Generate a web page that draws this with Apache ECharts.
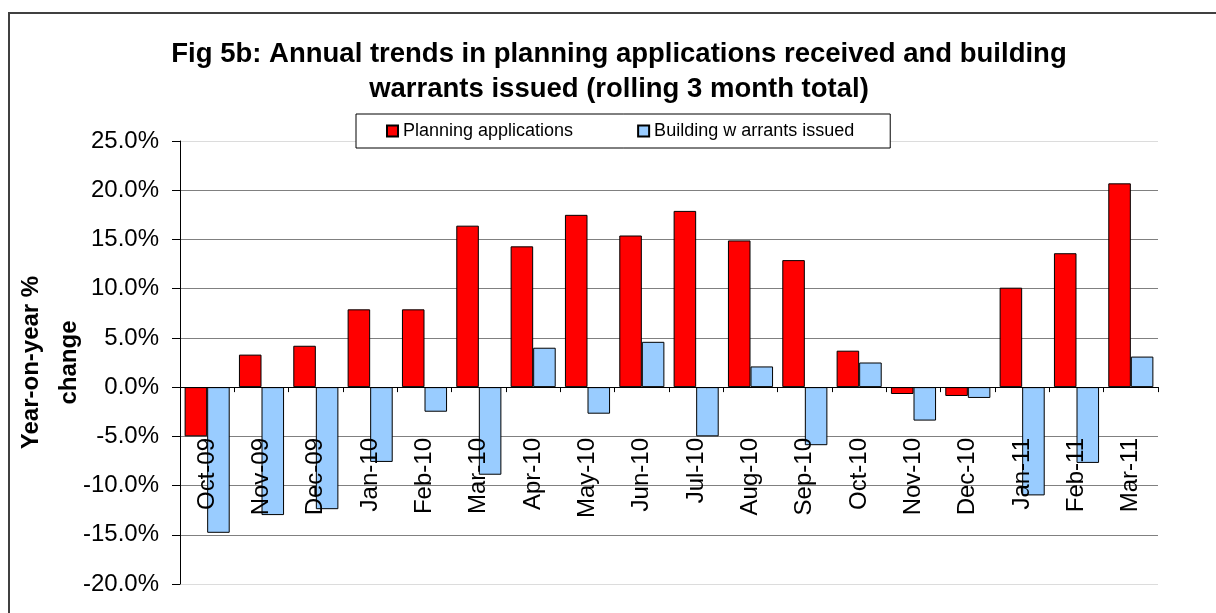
<!DOCTYPE html>
<html>
<head>
<meta charset="utf-8">
<script src="https://cdn.jsdelivr.net/npm/echarts@6/dist/echarts.min.js"></script>
<style>
  html, body { margin: 0; padding: 0; background: #fff; }
  #chart { width: 1216px; height: 613px; }
</style>
</head>
<body>
<div id="chart"></div>
<script>
// months (rolling 3 month total)
const months = ['Oct-09', 'Nov-09', 'Dec-09', 'Jan-10', 'Feb-10', 'Mar-10', 'Apr-10', 'May-10', 'Jun-10',
  'Jul-10', 'Aug-10', 'Sep-10', 'Oct-10', 'Nov-10', 'Dec-10', 'Jan-11', 'Feb-11', 'Mar-11']

// year-on-year % change
const planningApps = [-5.0, 3.3, 4.2, 7.9, 7.9, 16.4, 14.3, 17.5, 15.4, 17.9, 14.9, 12.9, 3.7, -0.7, -0.9, 10.1, 13.6, 20.7]
const buildingWarrants = [-14.8, -13.0, -12.4, -7.6, -2.5, -8.9, 4.0, -2.7, 4.6, -5.0, 2.1, -5.9, 2.5, -3.4, -1.1, -11.0, -7.7, 3.1]

const seriesNames = ['Planning applications', 'Building w arrants issued']

const font = 'Arial, "Liberation Sans", sans-serif'

const chart = echarts.init(document.getElementById('chart'))

// gridlines: top/bottom edges lighter than the inner ones
const gridColors = ['#dcdcdc', '#808080', '#808080', '#808080', '#808080', '#808080', '#808080', '#808080', '#808080', '#dcdcdc']

const option = {
  backgroundColor: '#fff',
  animation: false,
  title: {
    text: 'Fig 5b: Annual trends in planning applications received and building\nwarrants issued (rolling 3 month total)',
    left: 614,
    top: 32,
    textAlign: 'center',
    textStyle: {
      fontFamily: font,
      fontWeight: 'bold',
      fontSize: 27.5,
      lineHeight: 35,
      color: '#000',
    },
  },
  legend: {
    data: seriesNames,
    left: 356,
    top: 114,
    padding: [8, 36, 8, 30],
    itemGap: 64,
    itemWidth: 11,
    itemHeight: 11,
    icon: 'rect',
    backgroundColor: '#fff',
    borderColor: '#000',
    borderWidth: 1,
    textStyle: {
      fontFamily: font,
      fontSize: 18,
      color: '#000',
    },
  },
  grid: {
    left: 180,
    right: 58,
    top: 141,
    bottom: 29,
    outerBoundsMode: 'none',
    containLabel: false,
  },
  xAxis: {
    type: 'category',
    data: months,
    z: 3,
    axisLine: {
      onZero: true,
      lineStyle: { color: '#000', width: 1 },
    },
    axisTick: {
      show: true,
      length: 5,
      lineStyle: { color: '#000' },
    },
    axisLabel: {
      rotate: 90,
      margin: -146,
      interval: 0,
      fontFamily: font,
      fontSize: 24,
      color: '#000',
    },
  },
  yAxis: {
    type: 'value',
    min: -20,
    max: 25,
    interval: 5,
    name: 'Year-on-year %\nchange',
    nameLocation: 'middle',
    nameRotate: 90,
    nameGap: 92,
    nameMoveOverlap: false,
    nameTextStyle: {
      fontFamily: font,
      fontWeight: 'bold',
      fontSize: 24,
      lineHeight: 38,
      color: '#000',
    },
    axisLine: {
      show: true,
      lineStyle: { color: '#000', width: 1 },
    },
    axisTick: {
      show: true,
      length: 8,
      lineStyle: { color: '#000' },
    },
    axisLabel: {
      margin: 21,
      fontFamily: font,
      fontSize: 24,
      color: '#000',
      formatter: v => v.toFixed(1) + '%',
    },
    splitLine: {
      show: true,
      lineStyle: { color: gridColors, width: 1 },
    },
  },
  series: [
    {
      name: seriesNames[0],
      type: 'bar',
      data: planningApps,
      barGap: '0%',
      barCategoryGap: '17%',
      itemStyle: { color: '#ff0000', borderColor: '#000', borderWidth: 1 },
    },
    {
      name: seriesNames[1],
      type: 'bar',
      data: buildingWarrants,
      barGap: '0%',
      barCategoryGap: '17%',
      itemStyle: { color: '#99ccff', borderColor: '#000', borderWidth: 1 },
    },
  ],
  // outer chart-area border (top and left edges visible)
  graphic: [
    { type: 'line', shape: { x1: 8, y1: 13, x2: 1216, y2: 13 }, style: { stroke: '#404040', lineWidth: 2 } },
    { type: 'line', shape: { x1: 9, y1: 13, x2: 9, y2: 613 }, style: { stroke: '#404040', lineWidth: 2 } },
  ],
}

chart.setOption(option)
</script>
</body>
</html>
